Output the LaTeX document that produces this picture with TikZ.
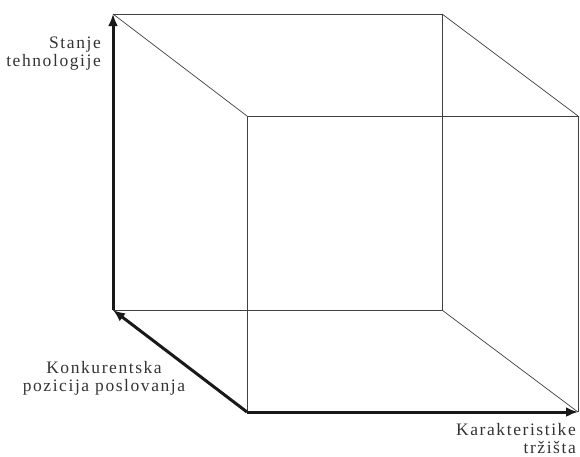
\documentclass[tikz,border=0pt]{standalone}
\usepackage{fontspec}
\setmainfont[LetterSpace=9]{Liberation Serif}
\usetikzlibrary{arrows.meta}
\begin{document}
\begin{tikzpicture}[x=1pt,y=-1pt,
  edge/.style={line width=0.7pt,black!75},
  axis/.style={line width=3pt,black!90,-{Latex[length=12pt,width=10pt]}},
  lbl/.style={font=\fontsize{17.5}{18}\selectfont,text=black!80,inner sep=0pt}]
\useasboundingbox (0,0) rectangle (580,456);
% back face
\coordinate (btl) at (113,14);
\coordinate (btr) at (442,14);
\coordinate (bbl) at (113,310);
\coordinate (bbr) at (442,310);
% front face
\coordinate (ftl) at (247,116);
\coordinate (ftr) at (578,116);
\coordinate (fbl) at (247,412);
\coordinate (fbr) at (578,412);
\draw[edge] (btl) -- (btr) -- (bbr) -- (bbl);
\draw[edge] (ftl) -- (ftr) -- (fbr);
\draw[edge] (ftl) -- (fbl);
\draw[edge] (btl) -- (ftl);
\draw[edge] (btr) -- (ftr);
\draw[edge] (bbr) -- (fbr);
\draw[axis] (bbl) -- (btl);
\draw[axis] (fbl) -- (bbl);
\draw[axis] (fbl) -- (fbr);
\node[lbl,align=right,anchor=base east] (t1) at (101,66) {Stanje\\tehnologije};
\node[lbl,align=center,anchor=base] (t2) at (104,391) {Konkurentska\\pozicija poslovanja};
\node[lbl,align=right,anchor=base east] (t3) at (576,453) {Karakteristike\\tržišta};
\end{tikzpicture}
\end{document}
